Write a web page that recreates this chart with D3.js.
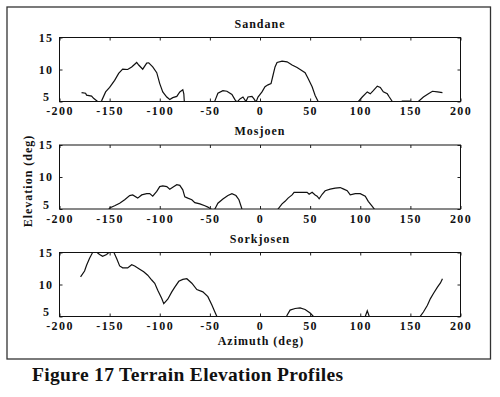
<!DOCTYPE html>
<html lang="en">

<head>
    <meta charset="UTF-8">
    <title>Terrain Elevation Profiles</title>
    <style>
        body {
            margin: 0;
            background: #fff;
        }

        text {
            font-family: "Liberation Serif", "Times New Roman", serif;
            font-weight: bold;
            fill: #111;
        }

        .tick text {
            font-size: 12px;
            letter-spacing: 1.4px;
        }

        .tick line {
            stroke: #222;
        }

        .profile {
            fill: none;
            stroke: #111;
            stroke-width: 1.2px;
        }
    </style>
</head>

<body>
    <script src="https://d3js.org/d3.v7.min.js"></script>
    <script>
        // values (deg); points below 5 are clipped like the original
        const sandaneAz = [-178, -174, -173, -168, -166, -162, -160, -158, -154, -150, -145, -141, -137, -132, -128, -123, -121, -117, -113, -111, -107, -103, -100, -97, -93, -90, -87, -83, -80, -77, -76, -75, -60, -47, -45, -42, -37, -33, -28, -25, -23, -20, -17, -14, -12, -8, -6, -4, -2, 2, 5, 8, 11, 13, 15, 17, 22, 27, 32, 37, 42, 45, 48, 52, 55, 58, 61, 75, 90, 96, 98, 102, 107, 110, 113, 117, 120, 123, 127, 129, 132, 136, 142, 150, 154, 158, 163, 168, 172, 177, 182];
        const sandaneEl = [6.4, 6.3, 6.0, 5.85, 5.5, 5.0, 4.8, 5.1, 6.5, 7.2, 8.3, 9.4, 10.05, 10.0, 10.4, 11.1, 10.7, 10.05, 11.0, 11.05, 10.4, 9.5, 7.8, 6.5, 5.7, 5.3, 5.6, 5.8, 6.5, 6.85, 6.2, 3.8, 3.0, 4.2, 5.1, 6.3, 6.7, 6.6, 6.1, 5.3, 4.9, 5.4, 5.7, 5.0, 5.7, 5.8, 5.4, 4.9, 5.7, 6.5, 7.3, 7.6, 7.8, 9.1, 10.4, 11.1, 11.3, 11.2, 10.7, 10.3, 9.8, 9.5, 8.6, 7.3, 5.95, 5.0, 4.0, 3.0, 3.5, 4.5, 5.0, 5.7, 6.5, 6.2, 6.7, 7.4, 7.2, 6.5, 6.2, 5.7, 5.0, 4.6, 5.05, 5.05, 4.7, 5.0, 5.7, 6.2, 6.6, 6.5, 6.4];

        const mosjoenAz = [-180, -165, -152, -150, -145, -140, -135, -130, -127, -122, -118, -113, -110, -107, -103, -100, -97, -93, -90, -87, -83, -80, -77, -75, -72, -68, -65, -60, -55, -52, -49, -47, -45, -42, -37, -32, -28, -24, -21, -18, -15, 0, 15, 18, 22, 25, 28, 32, 34, 40, 47, 49, 52, 55, 57, 59, 62, 65, 70, 75, 80, 83, 87, 90, 95, 100, 105, 108, 112, 114, 117, 140, 160, 180];
        const mosjoenEl = [3, 3.5, 4.6, 5.15, 5.5, 5.9, 6.45, 7.1, 7.2, 6.7, 7.2, 7.4, 7.4, 7.0, 7.75, 8.5, 8.6, 8.5, 8.1, 8.4, 8.8, 8.7, 8.0, 6.9, 6.7, 6.45, 6.0, 5.8, 5.5, 5.3, 5.0, 4.8, 5.0, 5.9, 6.55, 7.1, 7.4, 7.1, 6.45, 5.0, 4.0, 3.0, 4.0, 5.0, 5.8, 6.2, 6.7, 7.2, 7.6, 7.6, 7.6, 7.3, 7.6, 7.2, 7.0, 6.6, 7.3, 7.85, 8.1, 8.25, 8.35, 8.15, 7.85, 7.2, 7.4, 7.4, 7.0, 6.2, 5.4, 5.0, 4.0, 3.0, 3.0, 3.0];

        const sorkjosenAz = [-179, -175, -173, -170, -167, -165, -160, -157, -153, -150, -146, -143, -140, -137, -132, -128, -125, -120, -116, -112, -108, -105, -102, -98, -96, -92, -88, -85, -81, -77, -73, -68, -63, -57, -52, -48, -45, -43, -40, -20, 10, 24, 27, 30, 35, 40, 45, 50, 53, 56, 80, 103, 105, 107, 109, 111, 130, 155, 160, 163, 167, 170, 173, 177, 180, 182];
        const sorkjosenEl = [11.2, 12.1, 13.0, 14.1, 15.0, 15.3, 14.7, 14.4, 14.7, 15.1, 15.1, 14.05, 12.9, 12.6, 12.6, 13.1, 12.9, 12.4, 12.0, 11.45, 10.7, 10.2, 9.1, 7.8, 7.0, 7.7, 8.85, 9.6, 10.5, 10.8, 10.9, 10.2, 9.2, 8.85, 8.1, 6.8, 5.7, 5.0, 4.0, 3.0, 3.0, 4.0, 5.2, 6.0, 6.25, 6.35, 6.1, 5.55, 5.05, 4.0, 3.0, 4.5, 5.0, 5.9, 5.0, 4.5, 3.0, 4.0, 5.05, 5.7, 6.75, 7.8, 8.6, 9.6, 10.25, 10.9];

        const siteNames = ["Sandane", "Mosjoen", "Sorkjosen"];
        const xTicks = [-200, -150, -100, -50, 0, 50, 100, 150, 200];
        const yTicks = [5, 10, 15];

        const profiles = [
            { name: siteNames[0], az: sandaneAz, el: sandaneEl },
            { name: siteNames[1], az: mosjoenAz, el: mosjoenEl },
            { name: siteNames[2], az: sorkjosenAz, el: sorkjosenEl }
        ];

        const width = 500;
        const height = 397;
        const left = 59.5;
        const right = 460.5;
        const panelH = 64;
        const tops = [37.5, 145, 252.5];

        const svg = d3.select("body").append("svg")
            .attr("width", width)
            .attr("height", height);

        // outer frame of the figure
        svg.append("rect")
            .attr("x", 7)
            .attr("y", 7)
            .attr("width", 483.5)
            .attr("height", 352)
            .attr("fill", "none")
            .attr("stroke", "#333")
            .attr("stroke-width", 1.3);

        const x = d3.scaleLinear().domain([-200, 200]).range([left, right]);

        profiles.forEach((p, i) => {
            const top = tops[i];
            const y = d3.scaleLinear().domain([5, 15]).range([top + panelH, top]);
            const g = svg.append("g");

            g.append("clipPath")
                .attr("id", "clip" + i)
                .append("rect")
                .attr("x", left)
                .attr("y", top)
                .attr("width", right - left)
                .attr("height", panelH);

            const pts = p.az.map((a, k) => [a, p.el[k]]);
            g.append("path")
                .datum(pts)
                .attr("class", "profile")
                .attr("clip-path", `url(#clip${i})`)
                .attr("d", d3.line().x(d => x(d[0])).y(d => y(d[1])));

            // inward ticks, matlab style; plain hyphen for minus like the scan
            g.append("g")
                .attr("transform", `translate(0,${top + panelH})`)
                .call(d3.axisBottom(x).tickValues(xTicks).tickSize(-3).tickPadding(5).tickFormat(d => String(d)))
                .call(a => a.select(".domain").remove());

            g.append("g")
                .attr("transform", `translate(0,${top})`)
                .call(d3.axisTop(x).tickValues(xTicks).tickSize(-3).tickFormat(""))
                .call(a => a.select(".domain").remove());

            g.append("g")
                .attr("transform", `translate(${left},0)`)
                .call(d3.axisLeft(y).tickValues(yTicks).tickSize(-3).tickPadding(6))
                .call(a => a.select(".domain").remove())
                .call(a => a.selectAll(".tick text")
                    .filter(d => d === 5)
                    .attr("dy", "-0.05em")
                    .attr("x", -9));

            g.append("g")
                .attr("transform", `translate(${right},0)`)
                .call(d3.axisRight(y).tickValues(yTicks).tickSize(-3).tickFormat(""))
                .call(a => a.select(".domain").remove());

            g.selectAll(".tick text").attr("fill", "#111");

            g.append("rect")
                .attr("x", left)
                .attr("y", top)
                .attr("width", right - left)
                .attr("height", panelH)
                .attr("fill", "none")
                .attr("stroke", "#111")
                .attr("stroke-width", 1);

            g.append("text")
                .attr("x", 260)
                .attr("y", top - 10)
                .attr("text-anchor", "middle")
                .attr("font-size", 12)
                .attr("letter-spacing", 1)
                .text(p.name);
        });

        svg.append("text")
            .attr("x", 261)
            .attr("y", 345)
            .attr("text-anchor", "middle")
            .attr("font-size", 12)
            .attr("letter-spacing", 1)
            .text("Azimuth (deg)");

        svg.append("text")
            .attr("transform", "translate(32,181) rotate(-90)")
            .attr("text-anchor", "middle")
            .attr("font-size", 12)
            .attr("letter-spacing", 1)
            .text("Elevation (deg)");

        svg.append("text")
            .attr("x", 32)
            .attr("y", 381)
            .attr("font-size", 19.5)
            .attr("textLength", 311)
            .attr("lengthAdjust", "spacing")
            .text("Figure 17 Terrain Elevation Profiles");
    </script>
</body>

</html>
